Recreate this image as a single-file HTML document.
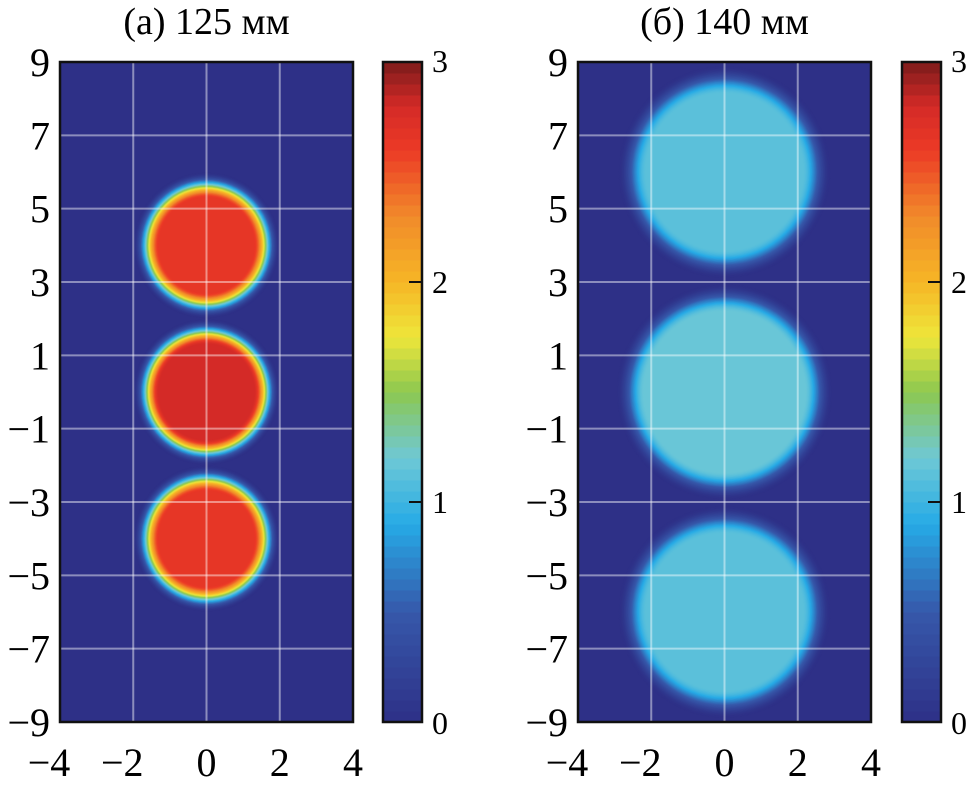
<!DOCTYPE html>
<html><head><meta charset="utf-8"><style>
html,body{margin:0;padding:0;background:#fff;}
svg{display:block;font-family:"Liberation Serif",serif;}
</style></head><body>
<svg id="fig" width="969" height="785" viewBox="0 0 969 785"></svg>
<script>
const xTicks=[-4,-2,0,2,4];
const yTicks=[9,7,5,3,1,-1,-3,-5,-7,-9];
const cbTicks=[0,1,2,3];
const titles=["(а)  125 мм","(б)  140 мм"];
const centersA=[4,0,-4];
const peaksA=[2.65,2.8,2.65];
const coreA=[1.3,1.3,1.3];
const edgeA=[2.0,2.0,2.0];
const centersB=[6,0,-6];
const peaksB=[1.12,1.18,1.12];
const coreB=[2.15,2.2,2.15];
const edgeB=[2.9,2.95,2.9];

const NS="http://www.w3.org/2000/svg";
const svg=document.getElementById('fig');
function el(t,a,p){const e=document.createElementNS(NS,t);for(const k in a)e.setAttribute(k,a[k]);(p||svg).appendChild(e);return e;}
const stops=[[0,[46,48,135]],[0.5,[54,88,170]],[0.9,[38,170,230]],[1.2,[110,200,214]],[1.5,[140,200,80]],[1.75,[238,230,58]],[2,[246,182,38]],[2.3,[241,138,42]],[2.6,[236,58,38]],[2.8,[212,42,39]],[3,[124,27,27]]];
function cmap(v){v=Math.max(0,Math.min(3,v));for(let i=1;i<stops.length;i++){if(v<=stops[i][0]){const a=stops[i-1],b=stops[i],t=(v-a[0])/(b[0]-a[0]);const c=a[1].map((x,j)=>Math.round(x+(b[1][j]-x)*t));return `rgb(${c})`;}}return 'rgb(124,27,27)';}

function panel(px,cbx,title,centers,peaks,cores,edges,id){
  const L=px,R=px+293,T=62,B=722;
  const sx=x=>L+(x+4)/8*(R-L), sy=y=>T+(9-y)/18*(B-T);
  const g=el('g',{});
  
  
  const t=el('text',{x:(L+R)/2,y:34,'font-size':38,'text-anchor':'middle'},g);t.textContent=title;
  
  const cp=el('clipPath',{id:'clip'+id},g);el('rect',{x:L,y:T,width:R-L,height:B-T},cp);
  const bg=el('rect',{x:L,y:T,width:R-L,height:B-T,fill:cmap(0)},g);
  
  const sg=el('g',{'clip-path':`url(#clip${id})`},g);
  centers.forEach((cy,i)=>{
    const spot=el('g',{},sg);
    
    const N=40;
    for(let k=0;k<=N;k++){
      const r=edges[i]-(edges[i]-cores[i])*k/N;
      let f=(edges[i]-r)/(edges[i]-cores[i]);f=f*f*(3-2*f);
      el('circle',{cx:sx(0),cy:sy(cy),r:r*(R-L)/8,fill:cmap(peaks[i]*f)},spot);
    }
  });
  xTicks.slice(1,-1).forEach(x=>{const l=el('line',{x1:sx(x),x2:sx(x),y1:T,y2:B,stroke:'rgba(255,255,255,0.45)','stroke-width':2},g);});
  yTicks.slice(1,-1).forEach(y=>{const l=el('line',{x1:L,x2:R,y1:sy(y),y2:sy(y),stroke:'rgba(255,255,255,0.45)','stroke-width':2},g);});
  const fr=el('rect',{x:L,y:T,width:R-L,height:B-T,fill:'none',stroke:'#111','stroke-width':2.5},g);
  
  yTicks.forEach(y=>{const s=el('text',{x:L-10,y:sy(y)+14,'font-size':40,'text-anchor':'end'},g);s.textContent=(y<0?'−':'')+Math.abs(y);});
  xTicks.forEach(x=>{const s=el('text',{x:sx(x)-(x<0?11:0),y:776,'font-size':40,'text-anchor':'middle'},g);s.textContent=(x<0?'−':'')+Math.abs(x);});
  const cb=el('g',{},g);
  const cw=39,cy0=sy(-9),cy1=sy(9),n=60;
  for(let k=0;k<n;k++){const v=(k+0.5)/n*3;const y2=cy0-(cy0-cy1)*k/n;el('rect',{x:cbx,y:y2-(cy0-cy1)/n-0.5,width:cw,height:(cy0-cy1)/n+1,fill:cmap(v)},cb);}
  el('rect',{x:cbx,y:cy1,width:cw,height:cy0-cy1,fill:'none',stroke:'#111','stroke-width':2.5},cb);
  cbTicks.forEach(v=>{const y=cy0-(cy0-cy1)*v/3;if(v>0&&v<3)el('line',{x1:cbx+cw-13,x2:cbx+cw,y1:y,y2:y,stroke:'#111','stroke-width':2},cb);const s=el('text',{x:cbx+cw+10,y:y+(v==3?10:v==0?12:11),'font-size':32},cb);s.textContent=v;});
}
panel(60,383,titles[0],centersA,peaksA,coreA,edgeA,'a');
panel(578,902,titles[1],centersB,peaksB,coreB,edgeB,'b');
</script>
</body></html>
